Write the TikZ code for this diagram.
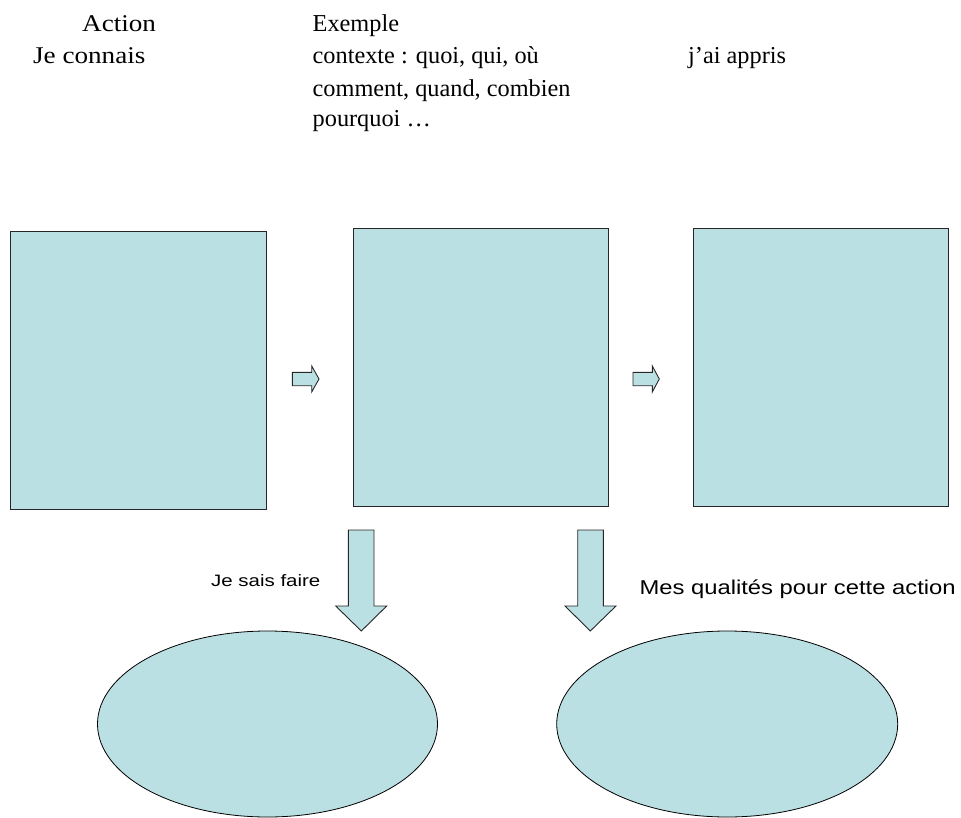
\documentclass[tikz,border=0pt]{standalone}
\usepackage{fontspec}
\setmainfont{Liberation Serif}
\newfontfamily\arialfont{Liberation Sans}
\usetikzlibrary{shapes.geometric}
\definecolor{paleblue}{HTML}{BBE0E3}
\definecolor{edgegray}{HTML}{262626}
\tikzset{
  boxshape/.style={draw=edgegray, fill=paleblue, line width=1pt, inner sep=0pt, anchor=north west},
  ovalshape/.style={ellipse, draw=black, fill=paleblue, line width=0.8pt, inner sep=0pt, minimum width=340pt, minimum height=186pt},
  blockarrow/.style={draw=edgegray, fill=paleblue, line width=0.9pt, line join=miter},
  lefttxt/.style={anchor=base west, inner sep=0pt, font=\fontsize{24}{28}\selectfont},
  midtxt/.style={anchor=base west, inner sep=0pt, font=\fontsize{24.3}{28}\selectfont},
  sanstxt/.style={anchor=base west, inner sep=0pt},
}
\begin{document}
\begin{tikzpicture}[x=1pt, y=-1pt]
\useasboundingbox (0,0) rectangle (961,818);
% top texts
\node[lefttxt] (tAction) at (82,31.7) {\scalebox{1.13}[1]{Action}};
\node[lefttxt] (tConnais) at (33,64) {\scalebox{1.13}[1]{Je connais}};
\node[midtxt] (tExemple) at (312.5,31.7) {Exemple};
\node[midtxt] (tL1) at (312.5,64) {contexte : quoi, qui, où};
\node[midtxt] (tL2) at (312.5,96.6) {comment, quand, combien};
\node[midtxt] (tL3) at (312.5,127) {pourquoi \ldots};
\node[midtxt] (tAppris) at (688,64) {j’ai appris};
% boxes
\node[boxshape, minimum width=256pt, minimum height=277pt] (box1) at (9.5,231.5) {};
\node[boxshape, minimum width=255pt, minimum height=277pt] (box2) at (352.5,228.5) {};
\node[boxshape, minimum width=255pt, minimum height=277pt] (box3) at (692.5,228.5) {};
% small right arrows
\draw[blockarrow] (292.3,372.3) -- (311.7,372.3) -- (311.7,366) -- (319,379) -- (311.7,392) -- (311.7,385.7) -- (292.3,385.7) -- cycle;
\draw[blockarrow] (633,372.3) -- (652.3,372.3) -- (652.3,366) -- (659.3,379) -- (652.3,392) -- (652.3,385.7) -- (633,385.7) -- cycle;
% big down arrows
\draw[blockarrow] (348.3,530) -- (374,530) -- (374,606) -- (386.7,606) -- (361.3,631) -- (335.7,606) -- (348.3,606) -- cycle;
\draw[blockarrow] (577.7,530) -- (603.3,530) -- (603.3,606) -- (616,606) -- (590.3,631) -- (565,606) -- (577.7,606) -- cycle;
% labels
\node[sanstxt, font=\arialfont\fontsize{16.5}{19}\selectfont] (tSais) at (211,586) {\scalebox{1.24}[1]{Je sais faire}};
\node[sanstxt, font=\arialfont\fontsize{20}{24}\selectfont] (tQual) at (639.3,594.5) {\scalebox{1.19}[1]{Mes qualités pour cette action}};
% ellipses
\node[ovalshape] (ell1) at (267.5,724) {};
\node[ovalshape, minimum width=341pt] (ell2) at (727.2,724) {};
\end{tikzpicture}
\end{document}
